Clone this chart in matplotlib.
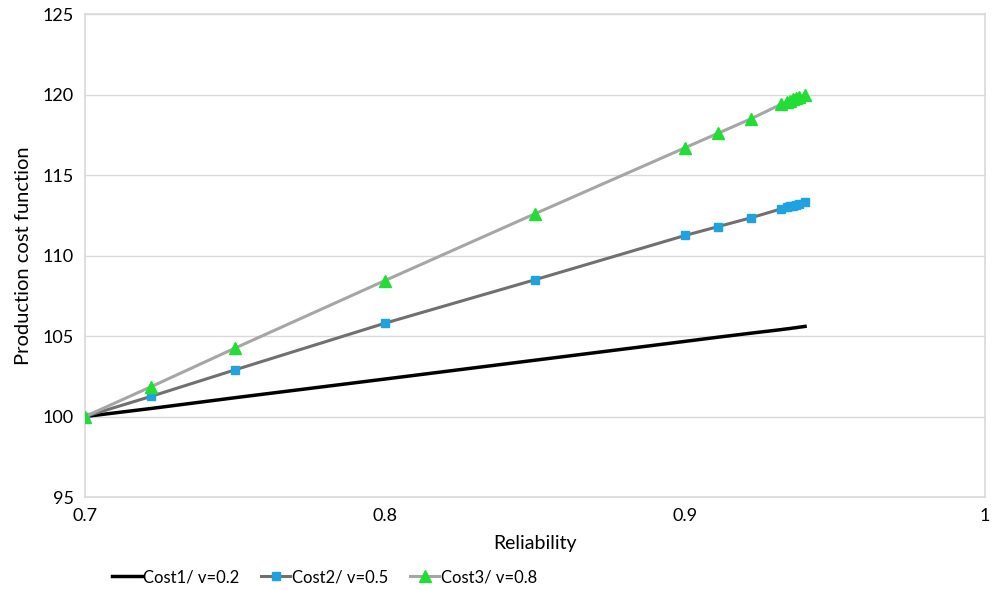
import matplotlib.pyplot as plt
from matplotlib.ticker import FuncFormatter

plt.rcParams['font.family'] = ['Lato', 'DejaVu Sans']

# values
reliability = [0.7, 0.722, 0.75, 0.8, 0.85, 0.9, 0.911, 0.922, 0.932, 0.934, 0.935, 0.936, 0.937, 0.938, 0.94]
cost1 = [100.0, 100.5, 101.17, 102.33, 103.5, 104.67, 104.93, 105.18, 105.4, 105.45, 105.47, 105.5, 105.52, 105.55, 105.6]
cost2 = [100.0, 101.25, 102.9, 105.8, 108.5, 111.25, 111.8, 112.35, 112.9, 113.0, 113.05, 113.1, 113.15, 113.2, 113.3]
cost3 = [100.0, 101.85, 104.25, 108.45, 112.6, 116.7, 117.6, 118.5, 119.4, 119.55, 119.6, 119.7, 119.8, 119.85, 120.0]

fig = plt.figure(figsize=(9.95, 5.9), dpi=100)
ax = fig.add_axes([0.0854, 0.1576, 0.9046, 0.8184])

ax.plot(reliability, cost1, color='black', linewidth=2.5, label='Cost1/ v=0.2', zorder=3)
ax.plot(reliability, cost2, color='#707070', linewidth=2.2, marker='s', markersize=6,
        markerfacecolor='#1fa3e0', markeredgecolor='#1fa3e0', label='Cost2/ v=0.5', zorder=4)
ax.plot(reliability, cost3, color='#a6a6a6', linewidth=2.2, marker='^', markersize=8,
        markerfacecolor='#22dd33', markeredgecolor='#22dd33', label='Cost3/ v=0.8', zorder=5)

ax.set_xlim(0.7, 1.0)
ax.set_ylim(95, 125)
ax.set_xticks([0.7, 0.8, 0.9, 1.0])
ax.set_yticks(range(95, 126, 5))
ax.xaxis.set_major_formatter(FuncFormatter(lambda v, p: f'{v:g}'))
ax.grid(axis='y', color='#d9d9d9', linewidth=1)
ax.set_axisbelow(True)
for s in ax.spines:
    ax.spines[s].set_color('#d9d9d9')
    ax.spines[s].set_linewidth(1.2)
ax.tick_params(length=0, labelsize=13, pad=8, colors='black')

ax.set_xlabel('Reliability', fontsize=14, labelpad=8)
ax.set_ylabel('Production cost function', fontsize=14.5, labelpad=8)

fig.legend(loc='center left', bbox_to_anchor=(0.113, 0.022), ncol=3, frameon=False,
           fontsize=12, handlelength=1.75, handletextpad=0.1, columnspacing=1.3,
           borderaxespad=0, borderpad=0)

fig.savefig('out.png', dpi=100)
